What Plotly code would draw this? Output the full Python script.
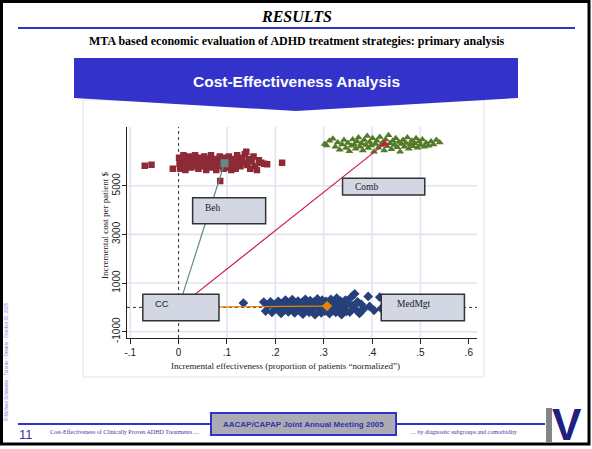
import plotly.graph_objects as go

W, H = 592, 449

# ---- bootstrap replicates: incremental effectiveness vs incremental cost (reference: community care) ----
beh_eff = [-0.070, -0.056, -0.012, 0.001, 0.002, 0.003, 0.006, 0.008, 0.010, 0.012,
           0.014, 0.017, 0.019, 0.022, 0.024, 0.026, 0.029, 0.031, 0.034, 0.036,
           0.038, 0.041, 0.043, 0.046, 0.048, 0.050, 0.053, 0.055, 0.057, 0.060,
           0.062, 0.064, 0.067, 0.069, 0.071, 0.074, 0.076, 0.078, 0.080, 0.082,
           0.085, 0.086, 0.088, 0.090, 0.093, 0.095, 0.097, 0.100, 0.102, 0.104,
           0.107, 0.109, 0.111, 0.114, 0.116, 0.118, 0.121, 0.123, 0.126, 0.128,
           0.131, 0.134, 0.137, 0.140, 0.142, 0.145, 0.148, 0.151, 0.155, 0.158,
           0.162, 0.166, 0.171, 0.177, 0.183, 0.214]
beh_cost = [5820, 5860, 5700, 6150, 5900, 5700, 6050, 5800, 6250, 5950,
            5650, 6100, 5850, 6200, 5950, 5750, 6050, 5900, 6250, 5800,
            6000, 5700, 6150, 5900, 6050, 5800, 6200, 5950, 5650, 6100,
            5850, 6000, 6250, 5750, 5950, 6100, 5850, 5650, 6050, 5900,
            6200, 5200, 5800, 6000, 5700, 6150, 5900, 6050, 5750, 6200,
            5950, 5650, 6100, 5850, 6000, 5700, 6250, 5900, 6050, 5800,
            6150, 5950, 6300, 6400, 5850, 6100, 5700, 6000, 6200, 5800,
            5650, 6050, 5950, 5900, 5880, 5950]

comb_eff = [0.302, 0.306, 0.312, 0.319, 0.324, 0.329, 0.333, 0.338, 0.342, 0.346,
            0.350, 0.353, 0.357, 0.360, 0.363, 0.366, 0.369, 0.372, 0.375, 0.378,
            0.381, 0.384, 0.387, 0.390, 0.392, 0.395, 0.398, 0.401, 0.404, 0.407,
            0.410, 0.413, 0.416, 0.419, 0.422, 0.425, 0.428, 0.431, 0.434, 0.437,
            0.440, 0.443, 0.446, 0.449, 0.452, 0.455, 0.458, 0.461, 0.464, 0.467,
            0.470, 0.473, 0.476, 0.479, 0.482, 0.485, 0.488, 0.491, 0.494, 0.497,
            0.500, 0.504, 0.508, 0.512, 0.517, 0.522, 0.527, 0.533, 0.540]
comb_cost = [6720, 6650, 6850, 6930, 6600, 6780, 6480, 6700, 6880, 6550,
             6760, 6420, 6640, 6900, 6700, 6520, 6820, 6980, 6600, 6750,
             6450, 6880, 6680, 7050, 6550, 6800, 6650, 6950, 6400, 6720,
             6850, 6560, 7000, 6680, 6780, 6450, 6900, 6620, 7080, 6750,
             6500, 6850, 6680, 6950, 6580, 6800, 6400, 6720, 6880, 6600,
             6760, 6980, 6520, 6700, 6850, 6620, 6750, 6950, 6560, 6820,
             6680, 6900, 6600, 6760, 6640, 6820, 6700, 6880, 6780]

med_eff = [0.134, 0.176, 0.180, 0.185, 0.190, 0.193, 0.198, 0.202, 0.206, 0.209,
           0.212, 0.215, 0.218, 0.221, 0.224, 0.227, 0.230, 0.232, 0.235, 0.237,
           0.240, 0.242, 0.245, 0.247, 0.250, 0.252, 0.255, 0.257, 0.260, 0.262,
           0.265, 0.267, 0.270, 0.272, 0.275, 0.277, 0.280, 0.282, 0.285, 0.287,
           0.290, 0.292, 0.295, 0.297, 0.300, 0.302, 0.305, 0.307, 0.310, 0.312,
           0.315, 0.317, 0.320, 0.322, 0.325, 0.327, 0.330, 0.332, 0.335, 0.337,
           0.340, 0.342, 0.345, 0.347, 0.350, 0.354, 0.357, 0.360, 0.364, 0.367,
           0.370, 0.374, 0.378, 0.383, 0.392, 0.395, 0.404, 0.416, 0.419]
med_cost = [180, 220, -150, 60, 230, -200, 100, -60, 250, 20,
            -250, 150, -100, 300, 40, -180, 200, -20, 320, 90,
            -230, 160, -70, 260, 10, -150, 190, -280, 80, 330,
            -40, 150, -200, 280, 30, -120, 220, -300, 110, 350,
            -60, 180, -220, 300, 40, -150, 250, -30, 150, -260,
            330, 60, -120, 200, -200, 380, 20, -80, 260, -300,
            120, -20, 300, -160, 180, -190, 420, 60, 560, -100,
            230, -250, 120, -60, 450, 40, -120, 420, -50]

# point estimates (means) of each strategy, community care at the origin
strategies = ["Beh", "Comb", "MedMgt"]
mean_eff = [0.095, 0.426, 0.307]
mean_cost = [5926, 6722, 54]
cc_eff, cc_cost = [0.0], [0.0]

# axis ticks
x_ticks = [-0.1, 0.0, 0.1, 0.2, 0.3, 0.4, 0.5, 0.6]
x_ticktext = ["-.1", "0", ".1", ".2", ".3", ".4", ".5", ".6"]
y_ticks = [-1000, 1000, 3000, 5000]
y_ticktext = ["-1000", "1000", "3000", "5000"]


def px(x):
    return x / W


def py(y):
    return 1 - y / H


BLUE = "#3333cc"
SERIF = "Liberation Serif, Times New Roman, serif"
SANS = "Liberation Sans, Arial, sans-serif"

fig = go.Figure()

# replicate clouds
fig.add_trace(go.Scatter(x=beh_eff, y=beh_cost, mode="markers",
                         marker=dict(symbol="square", size=6.5, color="#8e2a36", line_width=0)))
fig.add_trace(go.Scatter(x=comb_eff, y=comb_cost, mode="markers",
                         marker=dict(symbol="triangle-up", size=7, color="#547a27", line_width=0)))
fig.add_trace(go.Scatter(x=med_eff, y=med_cost, mode="markers",
                         marker=dict(symbol="diamond", size=7.5, color="#25407a", line_width=0)))

# rays from community care to each strategy's mean
line_colors = ["#5f8c80", "#d0164a", "#e58400"]
mean_symbols = ["square", "triangle-up", "diamond"]
for i, name in enumerate(strategies):
    fig.add_trace(go.Scatter(x=[cc_eff[0], mean_eff[i]], y=[cc_cost[0], mean_cost[i]],
                             mode="lines", line=dict(color=line_colors[i], width=1.2)))
for i, name in enumerate(strategies):
    fig.add_trace(go.Scatter(x=[mean_eff[i]], y=[mean_cost[i]], mode="markers",
                             marker=dict(symbol=mean_symbols[i], size=8, color=line_colors[i],
                                         line_width=0)))

shapes = []
annotations = []

# graph region outline
shapes.append(dict(type="rect", xref="paper", yref="paper", x0=px(83), x1=px(484),
                   y0=py(377), y1=py(100), line=dict(color="#e4e4ec", width=1),
                   fillcolor="white", layer="below"))

# grid lines
for gx in [-0.1, 0.1, 0.2, 0.3, 0.4, 0.5]:
    shapes.append(dict(type="line", xref="x", yref="paper", x0=gx, x1=gx,
                       y0=py(338), y1=py(127), line=dict(color="#dfe4ef", width=1.6),
                       layer="below"))
for gy in y_ticks:
    shapes.append(dict(type="line", xref="paper", yref="y", x0=px(127), x1=px(477),
                       y0=gy, y1=gy, line=dict(color="#dfe4ef", width=1.6), layer="below"))

# reference lines through the origin
shapes.append(dict(type="line", xref="x", yref="paper", x0=0, x1=0, y0=py(338), y1=py(127),
                   line=dict(color="#333333", width=1, dash="dot"), layer="below"))
shapes.append(dict(type="line", xref="paper", yref="y", x0=px(127), x1=px(477), y0=0, y1=0,
                   line=dict(color="#333333", width=1, dash="dot"), layer="below"))

# strategy label boxes (data coordinates)
boxes = [
    ("Beh", 0.029, 0.180, 3440, 4509, SERIF, 9.5, 0.050, 4080),
    ("Comb", 0.339, 0.509, 4620, 5306, SERIF, 9.5, 0.361, 4960),
    ("CC", -0.074, 0.0835, -547, 538, SANS, 9.5, -0.052, 160),
    ("MedMgt", 0.419, 0.591, -547, 538, SERIF, 9.5, 0.448, 160),
]
for text, bx0, bx1, by0, by1, fam, fs, tx, ty in boxes:
    shapes.append(dict(type="rect", xref="x", yref="y", x0=bx0, x1=bx1, y0=by0, y1=by1,
                       line=dict(color="#333333", width=1.5), fillcolor="#d2d7e3",
                       layer="above"))
    annotations.append(dict(x=tx, y=ty, xref="x", yref="y", text=text, showarrow=False,
                            xanchor="left", yanchor="middle",
                            font=dict(family=fam, size=fs, color="#222222")))

# slide frame
shapes.append(dict(type="rect", xref="paper", yref="paper", x0=px(1.5), x1=px(589),
                   y0=py(444), y1=py(1.5), line=dict(color="black", width=3)))
# title rule
shapes.append(dict(type="line", xref="paper", yref="paper", x0=px(18), x1=px(575),
                   y0=py(28), y1=py(28), line=dict(color=BLUE, width=2)))
# banner
banner = "M {a},{t} L {b},{t} L {b},{s} L {c},{m} L {a},{s} Z".format(
    a=px(74), b=px(518), c=px(296), t=py(58), s=py(98), m=py(111))
shapes.append(dict(type="path", xref="paper", yref="paper", path=banner,
                   fillcolor=BLUE, line=dict(width=0)))
# footer rules, box and section marker
shapes.append(dict(type="line", xref="paper", yref="paper", x0=px(18), x1=px(211),
                   y0=py(424), y1=py(424), line=dict(color=BLUE, width=2)))
shapes.append(dict(type="line", xref="paper", yref="paper", x0=px(396), x1=px(545),
                   y0=py(424), y1=py(424), line=dict(color=BLUE, width=2)))
shapes.append(dict(type="rect", xref="paper", yref="paper", x0=px(211), x1=px(396),
                   y0=py(435), y1=py(413), fillcolor="#ababb3", line=dict(color=BLUE, width=2)))
shapes.append(dict(type="rect", xref="paper", yref="paper", x0=px(546), x1=px(552),
                   y0=py(442), y1=py(408), fillcolor="#858585", line=dict(width=0)))

annotations += [
    dict(x=px(296), y=py(17), text="<b><i>RESULTS</i></b>",
         font=dict(family=SERIF, size=16, color="black")),
    dict(x=px(297), y=py(41),
         text="<b>MTA based economic evaluation of ADHD treatment strategies: primary analysis</b>",
         font=dict(family=SERIF, size=12, color="black")),
    dict(x=px(296), y=py(82), text="<b>Cost-Effectiveness Analysis</b>",
         font=dict(family=SANS, size=15.5, color="white")),
    dict(x=px(285), y=py(366),
         text="Incremental effectiveness (proportion of patients \u201cnormalized\u201d)",
         font=dict(family=SERIF, size=9, color="#222222")),
    dict(x=px(105), y=py(226), text="Incremental cost per patient $", textangle=-90,
         font=dict(family=SERIF, size=9, color="#222222")),
    dict(x=px(6), y=py(362),
         text="\u00a9 Michael Schlander - Toronto - Ontario - October 20, 2005", textangle=-90,
         font=dict(family=SANS, size=4.5, color="#7f7fdd")),
    dict(x=px(26), y=py(434), text="11", font=dict(family=SANS, size=13, color="#3838a8")),
    dict(x=px(48), y=py(432), xanchor="left",
         text="Cost-Effectiveness of Clinically Proven ADHD Treatments \u2026",
         font=dict(family=SERIF, size=6, color="#3838a8")),
    dict(x=px(303), y=py(424), text="<b>AACAP/CAPAP Joint Annual Meeting 2005</b>",
         font=dict(family=SANS, size=8, color="#3333aa")),
    dict(x=px(408), y=py(432), xanchor="left",
         text="\u2026 by diagnostic subgroups and comorbidity",
         font=dict(family=SERIF, size=6, color="#3838a8")),
    dict(x=px(567), y=py(424), text="<b>V</b>",
         font=dict(family=SANS, size=44, color="#20207e")),
]
for a in annotations:
    a.setdefault("xref", "paper")
    a.setdefault("yref", "paper")
    a.setdefault("showarrow", False)
    a.setdefault("xanchor", "center")
    a.setdefault("yanchor", "middle")

fig.update_layout(
    width=W, height=H, margin=dict(l=0, r=0, t=0, b=0),
    paper_bgcolor="white", plot_bgcolor="rgba(0,0,0,0)",
    showlegend=False, shapes=shapes, annotations=annotations,
    xaxis=dict(domain=[px(126.7), px(477)], range=[-0.1073, 0.617],
               tickvals=x_ticks, ticktext=x_ticktext, showgrid=False, zeroline=False,
               showline=True, linecolor="#222222", linewidth=1.3,
               ticks="outside", ticklen=5, tickcolor="#222222",
               tickfont=dict(family=SANS, size=10, color="#222222"), automargin=False),
    yaxis=dict(domain=[py(338), py(127)], range=[-1258, 7415],
               tickvals=y_ticks, ticktext=y_ticktext, tickangle=-90,
               showgrid=False, zeroline=False,
               showline=True, linecolor="#222222", linewidth=1.3,
               ticks="outside", ticklen=4, tickcolor="#222222", ticklabelstandoff=-2,
               tickfont=dict(family=SANS, size=10, color="#222222"), automargin=False),
)

fig.write_html("out.html", config={"displayModeBar": False})
